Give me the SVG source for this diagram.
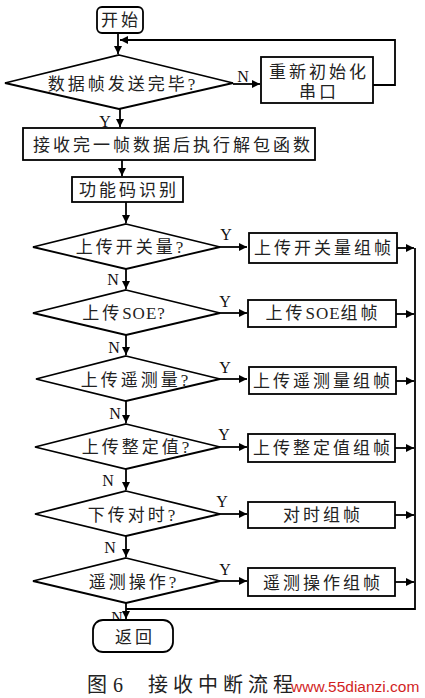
<svg xmlns="http://www.w3.org/2000/svg" width="425" height="698" viewBox="0 0 425 698">
<style>
.s{fill:#fff;stroke:#000;stroke-width:1.8}
.c{fill:none;stroke:#000;stroke-width:1.8}
.t{font-family:"Liberation Serif","Noto Sans CJK SC",serif;font-size:17px;letter-spacing:3px;fill:#222;text-anchor:middle;dominant-baseline:central}
.lat{letter-spacing:1px}
.l{font-family:"Liberation Serif",serif;font-size:16px;fill:#111;text-anchor:middle;dominant-baseline:central}
.cap{font-family:"Liberation Serif","Noto Sans CJK SC",serif;font-size:20px;fill:#222;dominant-baseline:central}
.wm{font-family:"Liberation Sans",Arial,sans-serif;font-size:15.5px;fill:#d21f1f;dominant-baseline:central}
</style>
<defs>
<marker id="a" viewBox="0 0 10 10" refX="10" refY="5" markerWidth="9" markerHeight="8" markerUnits="userSpaceOnUse" orient="auto">
<path d="M0,0L10,5L0,10Z" fill="#000"/>
</marker>
</defs>
<rect width="425" height="698" fill="#fff"/>
<g id="connectors">
<path class="c" d="M118,33V54" marker-end="url(#a)"/>
<path class="c" d="M373,85H395V40H120" marker-end="url(#a)"/>
<path class="c" d="M233,84H260" marker-end="url(#a)"/>
<path class="c" d="M120,109V127" marker-end="url(#a)"/>
<path class="c" d="M122,160V176" marker-end="url(#a)"/>
<path class="c" d="M126,202V223" marker-end="url(#a)"/>
<path class="c" d="M126,269V289" marker-end="url(#a)"/>
<path class="c" d="M126,335V355" marker-end="url(#a)"/>
<path class="c" d="M126,401V423" marker-end="url(#a)"/>
<path class="c" d="M126,469V490" marker-end="url(#a)"/>
<path class="c" d="M126,536V557" marker-end="url(#a)"/>
<path class="c" d="M126,603V619" marker-end="url(#a)"/>
<path class="c" d="M220,247H247" marker-end="url(#a)"/>
<path class="c" d="M220,313H247" marker-end="url(#a)"/>
<path class="c" d="M220,379H247" marker-end="url(#a)"/>
<path class="c" d="M220,447H247" marker-end="url(#a)"/>
<path class="c" d="M220,514H247" marker-end="url(#a)"/>
<path class="c" d="M220,581H247" marker-end="url(#a)"/>
<path class="c" d="M397,248H414" marker-end="url(#a)"/>
<path class="c" d="M396,314H414" marker-end="url(#a)"/>
<path class="c" d="M396,381H414" marker-end="url(#a)"/>
<path class="c" d="M395,448H414" marker-end="url(#a)"/>
<path class="c" d="M395,515H414" marker-end="url(#a)"/>
<path class="c" d="M395,582H414" marker-end="url(#a)"/>
<path class="c" d="M415,248V609H126"/>
<text class="l" x="243" y="76">N</text>
<text class="l" x="105" y="121">Y</text>
<text class="l" x="226" y="234">Y</text>
<text class="l" x="225" y="301">Y</text>
<text class="l" x="225" y="367">Y</text>
<text class="l" x="224" y="434">Y</text>
<text class="l" x="222" y="501">Y</text>
<text class="l" x="225" y="569">Y</text>
<text class="l" x="113" y="279">N</text>
<text class="l" x="114" y="347">N</text>
<text class="l" x="115" y="413">N</text>
<text class="l" x="108" y="480">N</text>
<text class="l" x="110" y="547">N</text>
<text class="l" x="117" y="617">N</text>
</g>
<g id="start">
<rect class="s" x="97" y="7" width="46" height="26" rx="5"/>
<text class="t" x="121" y="20">开始</text>
</g>
<g id="d1">
<path class="s" d="M119,55L233,83L119,109L5,83Z"/>
<text class="t" x="123" y="84">数据帧发送完毕?</text>
</g>
<g id="reinit">
<rect class="s" x="261" y="57" width="112" height="46"/>
<text class="t" x="319" y="72">重新初始化</text>
<text class="t" x="319" y="92">串口</text>
</g>
<g id="unpack">
<rect class="s" x="23" y="128" width="292" height="32"/>
<text class="t" x="173" y="145">接收完一帧数据后执行解包函数</text>
</g>
<g id="fcode">
<rect class="s" x="72" y="177" width="111" height="25"/>
<text class="t" x="129" y="190">功能码识别</text>
</g>
<g id="d3">
<path class="s" d="M126,224L220,247L126,269L33,247Z"/>
<text class="t" x="131" y="247">上传开关量?</text>
</g>
<g id="b3">
<rect class="s" x="249" y="233" width="148" height="30"/>
<text class="t" x="324" y="248">上传开关量组帧</text>
</g>
<g id="d4">
<path class="s" d="M126,290L220,313L126,335L33,313Z"/>
<text class="t" x="125" y="313">上传<tspan class="lat">SOE</tspan>?</text>
</g>
<g id="b4">
<rect class="s" x="248" y="300" width="148" height="27"/>
<text class="t" x="323" y="313">上传<tspan class="lat">SOE</tspan>组帧</text>
</g>
<g id="d5">
<path class="s" d="M126,356L220,379L126,401L36,379Z"/>
<text class="t" x="136" y="380">上传遥测量?</text>
</g>
<g id="b5">
<rect class="s" x="249" y="367" width="147" height="27"/>
<text class="t" x="323" y="381">上传遥测量组帧</text>
</g>
<g id="d6">
<path class="s" d="M126,424L220,447L126,469L35,447Z"/>
<text class="t" x="137" y="447">上传整定值?</text>
</g>
<g id="b6">
<rect class="s" x="248" y="434" width="147" height="28"/>
<text class="t" x="323" y="448">上传整定值组帧</text>
</g>
<g id="d7">
<path class="s" d="M126,491L220,514L126,536L35,514Z"/>
<text class="t" x="133" y="515">下传对时?</text>
</g>
<g id="b7">
<rect class="s" x="248" y="502" width="147" height="26"/>
<text class="t" x="323" y="515">对时组帧</text>
</g>
<g id="d8">
<path class="s" d="M126,558L220,581L126,603L33,581Z"/>
<text class="t" x="134" y="582">遥测操作?</text>
</g>
<g id="b8">
<rect class="s" x="248" y="568" width="147" height="28"/>
<text class="t" x="323" y="583">遥测操作组帧</text>
</g>
<g id="return">
<rect class="s" x="93" y="620" width="80" height="32" rx="10"/>
<text class="t" x="135" y="637">返回</text>
</g>
<g id="caption">
<text class="cap" x="87" y="685">图</text>
<text class="cap" x="113" y="685">6</text>
<text class="cap" x="148" y="685" letter-spacing="5">接收中断流程</text>
<text class="wm" x="291" y="686">www.55dianzi.com</text>
</g>
</svg>
